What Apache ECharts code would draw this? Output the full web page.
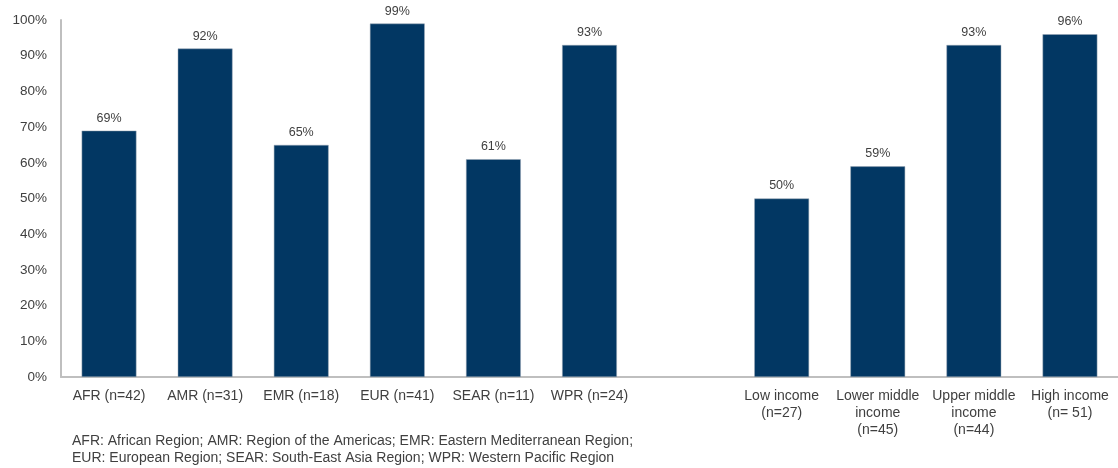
<!DOCTYPE html>
<html>
<head>
<meta charset="utf-8">
<script src="https://cdn.jsdelivr.net/npm/echarts@6/dist/echarts.min.js"></script>
<style>
  html, body { margin: 0; padding: 0; background: #ffffff; }
  #chart { width: 1118px; height: 468px; }
</style>
</head>
<body>
<div id="chart"></div>
<script>
// WHO regions, a spacer slot, then World Bank income groups
const categories = [
  'AFR (n=42)', 'AMR (n=31)', 'EMR (n=18)', 'EUR (n=41)', 'SEAR (n=11)', 'WPR (n=24)',
  '',
  'Low income\n(n=27)', 'Lower middle\nincome\n(n=45)', 'Upper middle\nincome\n(n=44)', 'High income\n(n= 51)'
];
// Share of countries (%) per group; null keeps the spacer slot empty
const shares = [69, 92, 65, 99, 61, 93, null, 50, 59, 93, 96];
const yTicks = { min: 0, max: 100, interval: 10 };
const footnote = [
  'AFR: African Region; AMR: Region of the Americas; EMR: Eastern Mediterranean Region;',
  'EUR: European Region; SEAR: South-East Asia Region; WPR: Western Pacific Region'
];

const FONT = '"Liberation Sans", Arial, sans-serif';
const TEXT = '#404040';
const AXIS = '#bfbfbf';
const BAR = '#023763';

const chart = echarts.init(document.getElementById('chart'), null, { renderer: 'canvas' });
chart.setOption({
  animation: false,
  backgroundColor: '#ffffff',
  textStyle: { fontFamily: FONT },
  grid: { left: 61, top: 20, width: 1059, height: 357, containLabel: false },
  xAxis: {
    type: 'category',
    data: categories,
    axisLine: { show: true, lineStyle: { color: AXIS, width: 2 } },
    axisTick: { show: false },
    axisLabel: {
      interval: 0, margin: 11, color: TEXT, fontSize: 14, fontFamily: FONT, lineHeight: 17
    }
  },
  yAxis: {
    type: 'value',
    min: yTicks.min, max: yTicks.max, interval: yTicks.interval,
    axisLine: { show: true, lineStyle: { color: AXIS, width: 2 } },
    axisTick: { show: false },
    splitLine: { show: false },
    axisLabel: { formatter: '{value}%', margin: 14, color: TEXT, fontSize: 13.5, fontFamily: FONT }
  },
  series: [{
    type: 'bar',
    data: shares,
    barWidth: '57%',
    itemStyle: { color: BAR, borderColor: '#9aa7b5', borderWidth: 0.5 },
    label: {
      show: true, position: 'top', distance: 6,
      formatter: p => p.value + '%',
      color: TEXT, fontSize: 12.5, fontFamily: FONT
    }
  }],
  graphic: [{
    type: 'text',
    left: 72, top: 433,
    style: {
      text: footnote.join('\n'),
      fill: TEXT, fontSize: 14, lineHeight: 17, fontFamily: FONT
    }
  }]
});
</script>
</body>
</html>
